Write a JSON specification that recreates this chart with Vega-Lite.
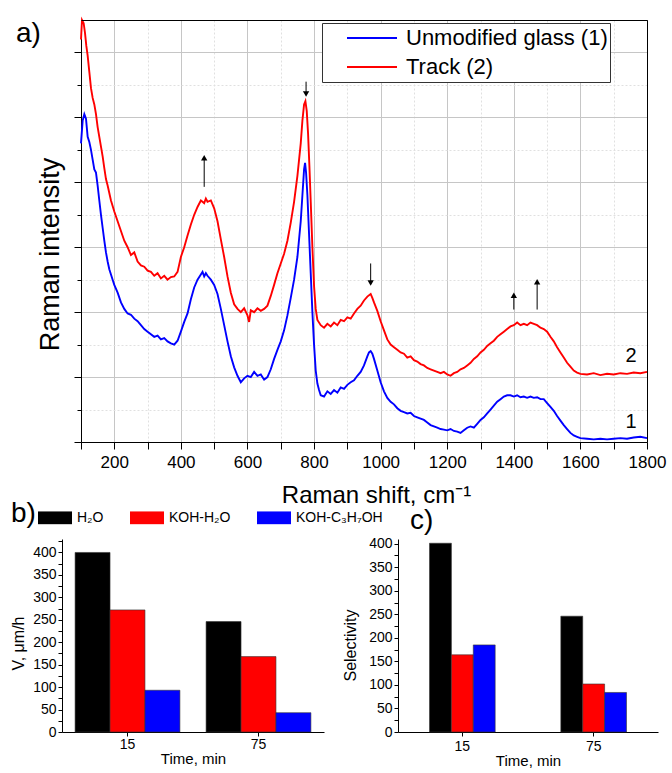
{
  "$schema": "https://vega.github.io/schema/vega-lite/v6.json",
  "padding": {"left": 10, "top": 15, "right": 0, "bottom": 0},
  "spacing": -8,
  "config": {
    "font": "Liberation Sans",
    "view": {"stroke": null},
    "axis": {"labelColor": "black", "titleColor": "black", "titleFontWeight": "normal", "domainColor": "black", "tickColor": "black", "labelFont": "Liberation Sans", "titleFont": "Liberation Sans"},
    "title": {"fontWeight": "normal", "color": "black", "font": "Liberation Sans"},
    "legend": {"labelColor": "black", "labelFont": "Liberation Sans"}
  },
  "datasets": {
    "blue": [
      {"x":100,"y":4.6},{"x":105,"y":4.95},{"x":110,"y":5.05},{"x":115,"y":4.98},{"x":120,"y":4.7},{"x":125,"y":4.62},{"x":130,"y":4.5},{"x":135,"y":4.35},{"x":140,"y":4.2},{"x":145,"y":4.15},{"x":150,"y":3.95},{"x":155,"y":3.72},{"x":160,"y":3.5},{"x":165,"y":3.3},{"x":170,"y":3.1},{"x":175,"y":2.92},{"x":180,"y":2.78},{"x":185,"y":2.66},{"x":190,"y":2.58},{"x":195,"y":2.5},{"x":200,"y":2.42},{"x":210,"y":2.3},{"x":220,"y":2.15},{"x":230,"y":2.05},{"x":240,"y":1.98},{"x":250,"y":1.96},{"x":260,"y":1.9},{"x":270,"y":1.86},{"x":280,"y":1.8},{"x":290,"y":1.74},{"x":300,"y":1.7},{"x":310,"y":1.66},{"x":320,"y":1.62},{"x":330,"y":1.64},{"x":340,"y":1.58},{"x":350,"y":1.6},{"x":360,"y":1.55},{"x":370,"y":1.52},{"x":380,"y":1.5},{"x":390,"y":1.56},{"x":400,"y":1.7},{"x":410,"y":1.85},{"x":420,"y":1.98},{"x":430,"y":2.2},{"x":440,"y":2.38},{"x":450,"y":2.5},{"x":460,"y":2.58},{"x":465,"y":2.62},{"x":470,"y":2.55},{"x":475,"y":2.6},{"x":480,"y":2.56},{"x":490,"y":2.5},{"x":500,"y":2.42},{"x":510,"y":2.28},{"x":520,"y":2.05},{"x":530,"y":1.8},{"x":540,"y":1.55},{"x":550,"y":1.32},{"x":560,"y":1.15},{"x":570,"y":1.02},{"x":580,"y":0.92},{"x":590,"y":0.98},{"x":600,"y":1.02},{"x":610,"y":1.0},{"x":620,"y":1.08},{"x":630,"y":1.02},{"x":640,"y":1.04},{"x":650,"y":0.96},{"x":660,"y":1.0},{"x":670,"y":1.12},{"x":680,"y":1.28},{"x":690,"y":1.42},{"x":700,"y":1.55},{"x":710,"y":1.72},{"x":720,"y":1.95},{"x":730,"y":2.22},{"x":740,"y":2.5},{"x":750,"y":2.85},{"x":760,"y":3.4},{"x":765,"y":3.8},{"x":770,"y":4.2},{"x":773,"y":4.3},{"x":776,"y":4.15},{"x":780,"y":3.8},{"x":785,"y":3.2},{"x":790,"y":2.6},{"x":795,"y":2.0},{"x":800,"y":1.5},{"x":805,"y":1.1},{"x":810,"y":0.9},{"x":815,"y":0.8},{"x":820,"y":0.72},{"x":830,"y":0.7},{"x":840,"y":0.78},{"x":850,"y":0.74},{"x":860,"y":0.8},{"x":870,"y":0.76},{"x":880,"y":0.84},{"x":890,"y":0.82},{"x":900,"y":0.88},{"x":910,"y":0.92},{"x":920,"y":0.95},{"x":930,"y":1.02},{"x":940,"y":1.08},{"x":950,"y":1.18},{"x":960,"y":1.32},{"x":965,"y":1.38},{"x":970,"y":1.4},{"x":975,"y":1.36},{"x":980,"y":1.28},{"x":990,"y":1.1},{"x":1000,"y":0.92},{"x":1010,"y":0.78},{"x":1020,"y":0.68},{"x":1030,"y":0.62},{"x":1040,"y":0.58},{"x":1050,"y":0.52},{"x":1060,"y":0.48},{"x":1070,"y":0.46},{"x":1080,"y":0.44},{"x":1090,"y":0.45},{"x":1100,"y":0.4},{"x":1110,"y":0.38},{"x":1120,"y":0.36},{"x":1130,"y":0.34},{"x":1140,"y":0.3},{"x":1150,"y":0.26},{"x":1160,"y":0.24},{"x":1170,"y":0.22},{"x":1180,"y":0.2},{"x":1190,"y":0.19},{"x":1200,"y":0.18},{"x":1210,"y":0.2},{"x":1220,"y":0.17},{"x":1230,"y":0.16},{"x":1240,"y":0.14},{"x":1250,"y":0.18},{"x":1260,"y":0.22},{"x":1270,"y":0.24},{"x":1280,"y":0.22},{"x":1290,"y":0.28},{"x":1300,"y":0.34},{"x":1310,"y":0.38},{"x":1320,"y":0.44},{"x":1330,"y":0.5},{"x":1340,"y":0.56},{"x":1350,"y":0.62},{"x":1360,"y":0.66},{"x":1370,"y":0.7},{"x":1380,"y":0.72},{"x":1390,"y":0.72},{"x":1400,"y":0.7},{"x":1410,"y":0.72},{"x":1420,"y":0.69},{"x":1430,"y":0.7},{"x":1440,"y":0.68},{"x":1450,"y":0.7},{"x":1460,"y":0.68},{"x":1470,"y":0.69},{"x":1480,"y":0.66},{"x":1490,"y":0.66},{"x":1500,"y":0.6},{"x":1510,"y":0.54},{"x":1520,"y":0.48},{"x":1530,"y":0.4},{"x":1540,"y":0.33},{"x":1550,"y":0.26},{"x":1560,"y":0.2},{"x":1570,"y":0.14},{"x":1580,"y":0.1},{"x":1590,"y":0.08},{"x":1600,"y":0.06},{"x":1620,"y":0.05},{"x":1640,"y":0.04},{"x":1660,"y":0.05},{"x":1680,"y":0.04},{"x":1700,"y":0.05},{"x":1720,"y":0.06},{"x":1740,"y":0.05},{"x":1760,"y":0.07},{"x":1780,"y":0.08},{"x":1800,"y":0.06}
    ],
    "red": [
      {"x":100,"y":6.2},{"x":103,"y":6.5},{"x":108,"y":6.45},{"x":112,"y":6.3},{"x":116,"y":6.1},{"x":120,"y":5.95},{"x":125,"y":5.7},{"x":130,"y":5.45},{"x":135,"y":5.3},{"x":140,"y":5.2},{"x":145,"y":5.05},{"x":150,"y":4.85},{"x":155,"y":4.7},{"x":160,"y":4.55},{"x":165,"y":4.4},{"x":170,"y":4.22},{"x":175,"y":4.05},{"x":180,"y":3.95},{"x":190,"y":3.72},{"x":200,"y":3.55},{"x":210,"y":3.4},{"x":220,"y":3.25},{"x":230,"y":3.1},{"x":240,"y":3.0},{"x":250,"y":2.88},{"x":260,"y":2.92},{"x":270,"y":2.78},{"x":280,"y":2.72},{"x":290,"y":2.7},{"x":300,"y":2.64},{"x":310,"y":2.62},{"x":320,"y":2.56},{"x":330,"y":2.6},{"x":340,"y":2.52},{"x":350,"y":2.56},{"x":360,"y":2.5},{"x":370,"y":2.54},{"x":380,"y":2.55},{"x":390,"y":2.62},{"x":400,"y":2.85},{"x":410,"y":3.0},{"x":420,"y":3.18},{"x":430,"y":3.35},{"x":440,"y":3.5},{"x":450,"y":3.62},{"x":460,"y":3.72},{"x":470,"y":3.68},{"x":475,"y":3.75},{"x":480,"y":3.7},{"x":490,"y":3.72},{"x":500,"y":3.6},{"x":510,"y":3.4},{"x":520,"y":3.12},{"x":530,"y":2.85},{"x":540,"y":2.55},{"x":550,"y":2.3},{"x":560,"y":2.12},{"x":570,"y":2.05},{"x":580,"y":2.0},{"x":590,"y":2.06},{"x":600,"y":1.95},{"x":605,"y":1.85},{"x":610,"y":2.03},{"x":620,"y":2.0},{"x":630,"y":2.06},{"x":640,"y":2.02},{"x":650,"y":2.05},{"x":660,"y":2.1},{"x":670,"y":2.25},{"x":680,"y":2.42},{"x":690,"y":2.6},{"x":700,"y":2.75},{"x":710,"y":2.9},{"x":720,"y":3.1},{"x":730,"y":3.38},{"x":740,"y":3.7},{"x":750,"y":4.1},{"x":760,"y":4.6},{"x":765,"y":4.95},{"x":770,"y":5.2},{"x":774,"y":5.25},{"x":778,"y":5.1},{"x":782,"y":4.75},{"x":786,"y":4.25},{"x":790,"y":3.7},{"x":795,"y":3.0},{"x":800,"y":2.4},{"x":805,"y":2.05},{"x":810,"y":1.88},{"x":820,"y":1.8},{"x":830,"y":1.76},{"x":840,"y":1.82},{"x":850,"y":1.78},{"x":860,"y":1.84},{"x":870,"y":1.8},{"x":880,"y":1.88},{"x":890,"y":1.86},{"x":900,"y":1.92},{"x":910,"y":1.9},{"x":920,"y":1.98},{"x":930,"y":2.05},{"x":940,"y":2.1},{"x":950,"y":2.18},{"x":960,"y":2.24},{"x":970,"y":2.28},{"x":975,"y":2.22},{"x":980,"y":2.15},{"x":990,"y":2.02},{"x":1000,"y":1.86},{"x":1010,"y":1.72},{"x":1020,"y":1.58},{"x":1030,"y":1.5},{"x":1040,"y":1.46},{"x":1050,"y":1.42},{"x":1060,"y":1.38},{"x":1070,"y":1.36},{"x":1080,"y":1.3},{"x":1090,"y":1.32},{"x":1100,"y":1.26},{"x":1110,"y":1.24},{"x":1120,"y":1.2},{"x":1130,"y":1.18},{"x":1140,"y":1.14},{"x":1150,"y":1.12},{"x":1160,"y":1.1},{"x":1170,"y":1.08},{"x":1180,"y":1.06},{"x":1190,"y":1.08},{"x":1200,"y":1.04},{"x":1210,"y":1.02},{"x":1220,"y":1.06},{"x":1230,"y":1.08},{"x":1240,"y":1.12},{"x":1250,"y":1.14},{"x":1260,"y":1.18},{"x":1270,"y":1.22},{"x":1280,"y":1.28},{"x":1290,"y":1.32},{"x":1300,"y":1.38},{"x":1310,"y":1.42},{"x":1320,"y":1.48},{"x":1330,"y":1.52},{"x":1340,"y":1.56},{"x":1350,"y":1.62},{"x":1360,"y":1.66},{"x":1370,"y":1.7},{"x":1380,"y":1.74},{"x":1390,"y":1.78},{"x":1400,"y":1.8},{"x":1410,"y":1.84},{"x":1420,"y":1.8},{"x":1430,"y":1.82},{"x":1440,"y":1.8},{"x":1450,"y":1.84},{"x":1460,"y":1.82},{"x":1470,"y":1.8},{"x":1480,"y":1.76},{"x":1490,"y":1.74},{"x":1500,"y":1.7},{"x":1510,"y":1.62},{"x":1520,"y":1.55},{"x":1530,"y":1.46},{"x":1540,"y":1.38},{"x":1550,"y":1.3},{"x":1560,"y":1.22},{"x":1570,"y":1.16},{"x":1580,"y":1.1},{"x":1590,"y":1.07},{"x":1600,"y":1.05},{"x":1620,"y":1.04},{"x":1640,"y":1.06},{"x":1660,"y":1.03},{"x":1680,"y":1.05},{"x":1700,"y":1.04},{"x":1720,"y":1.06},{"x":1740,"y":1.05},{"x":1760,"y":1.07},{"x":1780,"y":1.06},{"x":1800,"y":1.08}
    ],
    "arrows": [
      {"x":470,"a":3.93,"b":4.35,"h":4.38,"dir":"up"},
      {"x":776,"a":5.55,"b":5.38,"h":5.36,"dir":"down"},
      {"x":970,"a":2.75,"b":2.47,"h":2.45,"dir":"down"},
      {"x":1400,"a":2.04,"b":2.24,"h":2.26,"dir":"up"},
      {"x":1470,"a":2.04,"b":2.46,"h":2.47,"dir":"up"}
    ],
    "curvelabels": [
      {"x":1752,"y":1.23,"t":"2"},
      {"x":1752,"y":0.215,"t":"1"}
    ],
    "vel": [
      {"t":"15","s":"H₂O","v":400},{"t":"15","s":"KOH-H₂O","v":272},{"t":"15","s":"KOH-C₃H₇OH","v":93},
      {"t":"75","s":"H₂O","v":246},{"t":"75","s":"KOH-H₂O","v":168},{"t":"75","s":"KOH-C₃H₇OH","v":43}
    ],
    "sel": [
      {"t":"15","s":"H₂O","v":401},{"t":"15","s":"KOH-H₂O","v":164},{"t":"15","s":"KOH-C₃H₇OH","v":185},
      {"t":"75","s":"H₂O","v":246},{"t":"75","s":"KOH-H₂O","v":102},{"t":"75","s":"KOH-C₃H₇OH","v":84}
    ]
  },
  "resolve": {"scale": {"color": "independent"}, "legend": {"color": "independent"}},
  "vconcat": [
    {
      "spacing": 18,
      "bounds": "flush",
      "hconcat": [
        {
          "width": 1,
          "height": 422,
          "data": {"values": []},
          "mark": "point",
          "encoding": {}
        },
        {
          "width": 566,
          "height": 422,
          "view": {"stroke": "black", "strokeWidth": 1},
          "title": {"text": "a)", "anchor": "start", "frame": "group", "fontSize": 28, "baseline": "alphabetic", "offset": 0, "dx": -65, "dy": 54},
          "resolve": {"axis": {"x": "independent", "y": "independent"}},
          "layer": [
            {
              "data": {"name": "blue"},
              "mark": {"type": "line", "strokeWidth": 1.9},
              "encoding": {
                "x": {"field": "x", "type": "quantitative", "scale": {"domain": [100, 1800], "nice": false, "zero": false},
                  "axis": {"orient": "bottom", "values": [200,400,600,800,1000,1200,1400,1600,1800], "format": "d", "labelOverlap": false, "labelFlush": false,
                    "labelFontSize": 17, "labelPadding": 5, "tickSize": 7, "tickWidth": 1,
                    "grid": true, "gridColor": "#c6c6c6", "gridWidth": 1,
                    "title": "Raman shift, cm⁻¹", "titleFontSize": 24, "titleX": 295, "titleY": 60, "titleBaseline": "alphabetic", "titleAlign": "center"}},
                "y": {"field": "y", "type": "quantitative", "scale": {"domain": [0, 6.5], "nice": false, "zero": false},
                  "axis": {"orient": "left", "values": [0,1,2,3,4,5,6], "labels": false, "tickSize": 7, "tickWidth": 1,
                    "grid": true, "gridColor": "#c6c6c6", "gridWidth": 1,
                    "title": "Raman intensity", "titleFontSize": 27, "titleX": -23, "titleY": 234, "titleBaseline": "alphabetic", "titleAlign": "center"}},
                "color": {"datum": "Unmodified glass (1)", "type": "nominal",
                  "scale": {"domain": ["Unmodified glass (1)", "Track (2)"], "range": ["#0000ff", "#ff0000"]},
                  "legend": {"orient": "none", "legendX": 260, "legendY": 3, "title": null, "strokeColor": "#333333", "fillColor": "white",
                    "padding": 2, "symbolType": "stroke", "symbolSize": 2500, "symbolStrokeWidth": 2, "clipHeight": 26, "rowPadding": 3,
                    "symbolOffset": 22, "labelOffset": 8, "labelFontSize": 22, "labelLimit": 400}}
              }
            },
            {
              "data": {"name": "red"},
              "mark": {"type": "line", "strokeWidth": 1.9},
              "encoding": {
                "x": {"field": "x", "type": "quantitative",
                  "axis": {"orient": "bottom", "values": [100,300,500,700,900,1100,1300,1500,1700], "labels": false, "domain": false,
                    "tickSize": 7, "tickWidth": 1, "grid": true, "gridColor": "#e0e0e0", "gridDash": [2, 2], "title": null}},
                "y": {"field": "y", "type": "quantitative",
                  "axis": {"orient": "left", "values": [0.5,1.5,2.5,3.5,4.5,5.5], "labels": false, "domain": false,
                    "tickSize": 4, "tickWidth": 1, "grid": true, "gridColor": "#e0e0e0", "gridDash": [2, 2], "title": null}},
                "color": {"datum": "Track (2)", "type": "nominal"}
              }
            },
            {
              "data": {"name": "arrows"},
              "mark": {"type": "rule", "color": "black", "strokeWidth": 1},
              "encoding": {
                "x": {"field": "x", "type": "quantitative", "axis": null},
                "y": {"field": "a", "type": "quantitative",
                  "axis": {"orient": "right", "labels": false, "ticks": false, "grid": false, "domain": true, "domainColor": "black", "domainWidth": 1, "title": null, "zindex": 1}},
                "y2": {"field": "b"}
              }
            },
            {
              "data": {"name": "arrows"},
              "mark": {"type": "point", "filled": true, "color": "black", "size": 40, "opacity": 1},
              "encoding": {
                "x": {"field": "x", "type": "quantitative",
                  "axis": {"orient": "top", "labels": false, "ticks": false, "grid": false, "domain": true, "domainColor": "black", "domainWidth": 1, "title": null, "zindex": 1}},
                "y": {"field": "h", "type": "quantitative", "axis": null},
                "shape": {"field": "dir", "type": "nominal", "scale": {"domain": ["up", "down"], "range": ["triangle-up", "triangle-down"]}, "legend": null}
              }
            },
            {
              "data": {"name": "curvelabels"},
              "mark": {"type": "text", "fontSize": 20, "baseline": "alphabetic", "align": "center", "color": "black"},
              "encoding": {
                "x": {"field": "x", "type": "quantitative", "axis": null},
                "y": {"field": "y", "type": "quantitative", "axis": null},
                "text": {"field": "t"}
              }
            }
          ]
        }
      ]
    },
    {
      "spacing": -41,
      "resolve": {"scale": {"xOffset": "independent"}, "legend": {"color": "independent"}},
      "hconcat": [
        {
          "width": 262,
          "height": 193,
          "data": {"name": "vel"},
          "title": {"text": "b)", "anchor": "start", "frame": "group", "fontSize": 28, "baseline": "alphabetic", "offset": 0, "dx": -51, "dy": 39},
          "mark": {"type": "bar", "stroke": "#333333", "strokeWidth": 0.6},
          "encoding": {
            "x": {"field": "t", "type": "nominal", "sort": ["15", "75"], "scale": {"paddingInner": 0.2, "paddingOuter": 0.1},
              "axis": {"labelAngle": 0, "labelFontSize": 14, "tickSize": 4, "labelPadding": 1, "title": "Time, min", "titleFontSize": 15, "titleY": 31, "titleBaseline": "alphabetic"}},
            "xOffset": {"field": "s", "type": "nominal", "sort": ["H₂O", "KOH-H₂O", "KOH-C₃H₇OH"], "scale": {"paddingInner": 0, "paddingOuter": 0}},
            "y": {"field": "v", "type": "quantitative", "scale": {"domain": [0, 430], "nice": false},
              "axis": {"values": [0,25,50,75,100,125,150,175,200,225,250,275,300,325,350,375,400,425],
                "labelExpr": "datum.value % 50 === 0 ? datum.label : ''", "labelOverlap": false, "labelFontSize": 14, "labelPadding": 2,
                "tickSize": 4, "grid": false,
                "title": "V, μm/h", "titleFontSize": 16, "titleX": -39, "titleY": 104, "titleBaseline": "alphabetic", "titleAlign": "center"}},
            "color": {"field": "s", "type": "nominal",
              "scale": {"domain": ["H₂O", "KOH-H₂O", "KOH-C₃H₇OH"], "range": ["#000000", "#ff0000", "#0000ff"]},
              "legend": {"orient": "none", "legendX": -24, "legendY": -28, "direction": "horizontal", "title": null,
                "symbolType": "M-1,-0.38H1V0.38H-1Z", "symbolSize": 1156, "symbolStrokeWidth": 0, "symbolOpacity": 1, "clipHeight": 13,
                "labelOffset": 5, "columnPadding": 26, "labelFontSize": 14, "padding": 0, "labelLimit": 200}}
          }
        },
        {
          "width": 260,
          "height": 193,
          "data": {"name": "sel"},
          "title": {"text": "c)", "anchor": "start", "frame": "group", "fontSize": 28, "baseline": "alphabetic", "offset": 0, "dx": 12, "dy": 20},
          "mark": {"type": "bar", "stroke": "#333333", "strokeWidth": 0.6},
          "encoding": {
            "x": {"field": "t", "type": "nominal", "sort": ["15", "75"], "scale": {"paddingInner": 0.5, "paddingOuter": 0.24},
              "axis": {"labelAngle": 0, "labelFontSize": 14, "tickSize": 4, "labelPadding": 3, "title": "Time, min", "titleFontSize": 15, "titleY": 33, "titleBaseline": "alphabetic"}},
            "xOffset": {"field": "s", "type": "nominal", "sort": ["H₂O", "KOH-H₂O", "KOH-C₃H₇OH"], "scale": {"paddingInner": 0, "paddingOuter": 0}},
            "y": {"field": "v", "type": "quantitative", "scale": {"domain": [0, 410], "nice": false},
              "axis": {"values": [0,25,50,75,100,125,150,175,200,225,250,275,300,325,350,375,400],
                "labelExpr": "datum.value % 50 === 0 ? datum.label : ''", "labelOverlap": false, "labelFontSize": 14, "labelPadding": 2,
                "tickSize": 4, "grid": false,
                "title": "Selectivity", "titleFontSize": 16, "titleX": -43, "titleY": 106, "titleBaseline": "alphabetic", "titleAlign": "center"}},
            "color": {"field": "s", "type": "nominal",
              "scale": {"domain": ["H₂O", "KOH-H₂O", "KOH-C₃H₇OH"], "range": ["#000000", "#ff0000", "#0000ff"]},
              "legend": null}
          }
        }
      ]
    }
  ]
}
